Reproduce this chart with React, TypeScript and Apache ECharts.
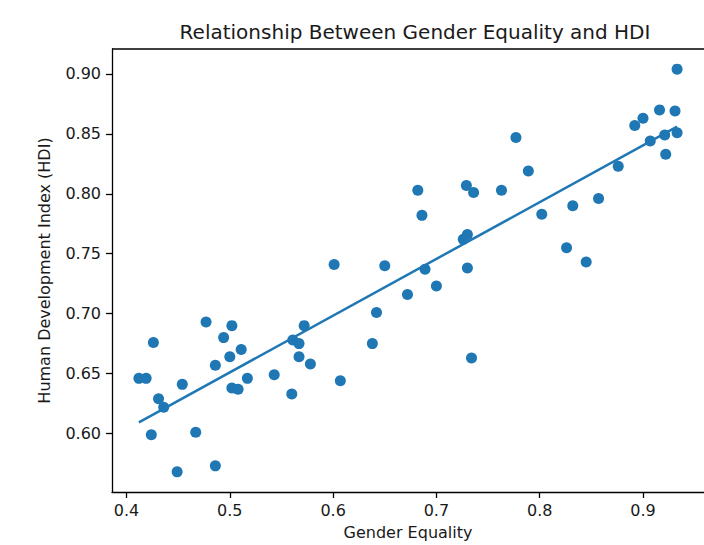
import React, { useEffect, useRef } from "react";
import * as echarts from "echarts";

const genderEquality: number[] = [
  0.412, 0.419, 0.426, 0.431, 0.436, 0.424, 0.454, 0.449, 0.467, 0.477,
  0.486, 0.486, 0.494, 0.502, 0.500, 0.502, 0.508, 0.511, 0.517, 0.543,
  0.560, 0.561, 0.567, 0.567, 0.572, 0.578, 0.601, 0.607, 0.638, 0.642,
  0.650, 0.682, 0.686, 0.689, 0.700, 0.672, 0.729, 0.736, 0.726, 0.730,
  0.730, 0.734, 0.763, 0.777, 0.789, 0.802, 0.826, 0.832, 0.845, 0.857,
  0.876, 0.892, 0.900, 0.916, 0.907, 0.921, 0.922, 0.931, 0.933, 0.933,
];
const hdi: number[] = [
  0.646, 0.646, 0.676, 0.629, 0.622, 0.599, 0.641, 0.568, 0.601, 0.693,
  0.657, 0.573, 0.680, 0.690, 0.664, 0.638, 0.637, 0.670, 0.646, 0.649,
  0.633, 0.678, 0.675, 0.664, 0.690, 0.658, 0.741, 0.644, 0.675, 0.701,
  0.740, 0.803, 0.782, 0.737, 0.723, 0.716, 0.807, 0.801, 0.762, 0.766,
  0.738, 0.663, 0.803, 0.847, 0.819, 0.783, 0.755, 0.790, 0.743, 0.796,
  0.823, 0.857, 0.863, 0.870, 0.844, 0.849, 0.833, 0.869, 0.851, 0.904,
];
const xTicks: number[] = [0.4, 0.5, 0.6, 0.7, 0.8, 0.9];
const yTicks: number[] = [0.6, 0.65, 0.7, 0.75, 0.8, 0.85, 0.9];

const TITLE = "Relationship Between Gender Equality and HDI";
const X_NAME = "Gender Equality";
const Y_NAME = "Human Development Index (HDI)";

function fit(xs: number[], ys: number[]) {
  const n = xs.length;
  const mx = xs.reduce((a, b) => a + b, 0) / n;
  const my = ys.reduce((a, b) => a + b, 0) / n;
  let sxy = 0;
  let sxx = 0;
  for (let i = 0; i < n; i++) {
    sxy += (xs[i] - mx) * (ys[i] - my);
    sxx += (xs[i] - mx) * (xs[i] - mx);
  }
  const m = sxy / sxx;
  return { m, b: my - m * mx };
}

export default function App() {
  const ref = useRef<HTMLDivElement>(null);
  useEffect(() => {
    if (!ref.current) return;
    const chart = echarts.init(ref.current, null, { renderer: "svg" });
    const pts = genderEquality.map((x, i) => [x, hdi[i]]);
    const { m, b } = fit(genderEquality, hdi);
    const xmin = Math.min(...genderEquality);
    const xmax = Math.max(...genderEquality);
    const ymin = Math.min(...hdi);
    const ymax = Math.max(...hdi);
    const xr = xmax - xmin;
    const yr = ymax - ymin;
    const font = "DejaVu Sans";
    const txt = "#1a1a1a";
    chart.setOption({
      animation: false,
      backgroundColor: "#ffffff",
      title: {
        text: TITLE,
        left: 410,
        textAlign: "center",
        top: 17,
        textStyle: { fontFamily: font, fontSize: 20, fontWeight: "normal", color: txt },
      },
      grid: { left: 112, top: 49, width: 596, height: 444 },
      xAxis: {
        type: "value",
        min: xmin - 0.05 * xr,
        max: xmax + 0.05 * xr,
        name: X_NAME,
        nameLocation: "middle",
        nameGap: 32,
        nameTextStyle: { fontFamily: font, fontSize: 16, color: txt },
        axisLine: { lineStyle: { color: "#000", width: 1.3 } },
        axisTick: { show: true, length: 6, lineStyle: { color: "#000", width: 1.3 }, customValues: xTicks },
        axisLabel: {
          fontFamily: font,
          fontSize: 16,
          color: txt,
          margin: 10,
          customValues: xTicks,
          formatter: (v: number) => v.toFixed(1),
        },
        splitLine: { show: false },
      },
      yAxis: {
        type: "value",
        min: ymin - 0.05 * yr,
        max: ymax + 0.05 * yr,
        name: Y_NAME,
        nameLocation: "middle",
        nameGap: 60,
        nameTextStyle: { fontFamily: font, fontSize: 16, color: txt },
        axisLine: { show: true, lineStyle: { color: "#000", width: 1.3 } },
        axisTick: { show: true, length: 6, lineStyle: { color: "#000", width: 1.3 }, customValues: yTicks },
        axisLabel: {
          fontFamily: font,
          fontSize: 16,
          color: txt,
          margin: 11,
          customValues: yTicks,
          formatter: (v: number) => v.toFixed(2),
        },
        splitLine: { show: false },
      },
      graphic: [
        {
          type: "line",
          shape: { x1: 112, y1: 49, x2: 708, y2: 49 },
          style: { stroke: "#000", lineWidth: 1.3 },
          z: 10,
        },
      ],
      series: [
        {
          type: "scatter",
          data: pts,
          symbol: "circle",
          symbolSize: 11,
          itemStyle: { color: "#1f77b4", opacity: 1 },
          z: 2,
        },
        {
          type: "line",
          data: [
            [xmin, m * xmin + b],
            [xmax, m * xmax + b],
          ],
          symbol: "none",
          lineStyle: { color: "#1f77b4", width: 2.5 },
          z: 3,
        },
      ],
    });
    return () => chart.dispose();
  }, []);
  return (
    <div
      ref={ref}
      style={{ position: "fixed", left: 0, top: 0, width: 704, height: 545, background: "#fff" }}
    />
  );
}
